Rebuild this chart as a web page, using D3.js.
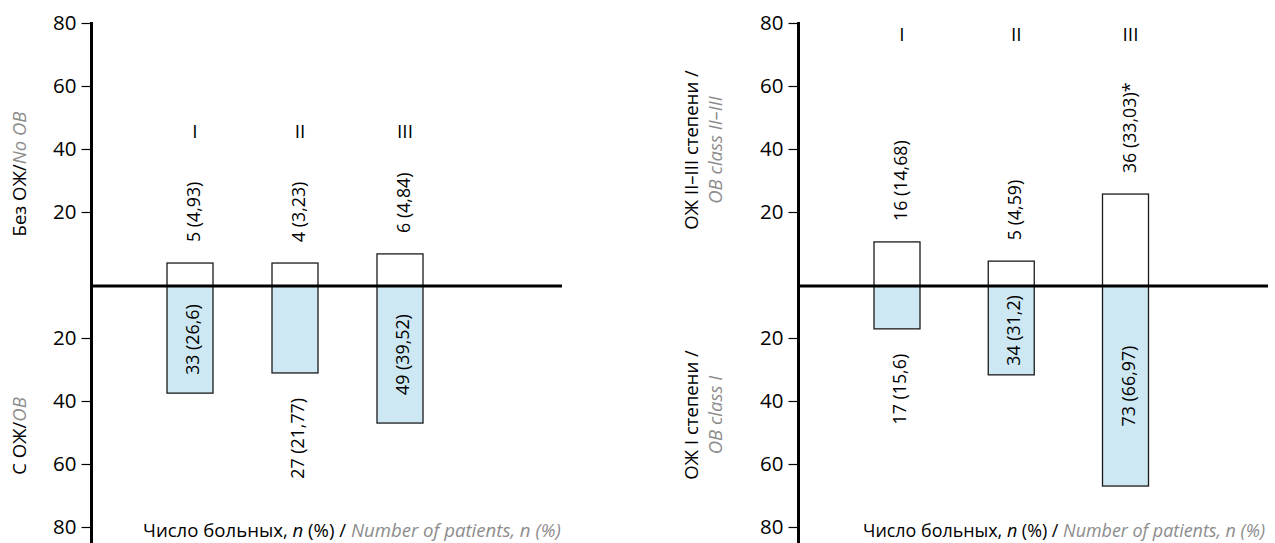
<!DOCTYPE html>
<html>
<head>
<meta charset="utf-8">
<script src="https://cdn.jsdelivr.net/npm/d3@7"></script>
<style>
  html, body { margin: 0; padding: 0; background: #fff; }
  svg { display: block; font-family: "Open Sans", sans-serif; }
</style>
</head>
<body>
<svg id="chart" width="1275" height="543"></svg>
<script>
// ---- data ----
const groups = ["I", "II", "III"];
const yTicks = [20, 40, 60, 80];

// bar lengths as drawn in the picture (axis units)
const leftUpperValues = [3.8, 3.8, 6.7];
const leftLowerValues = [37.5, 31.1, 47.0];
const rightUpperValues = [10.5, 4.4, 25.7];
const rightLowerValues = [17.1, 31.7, 67.0];

// printed value labels
const leftUpperLabels = ["5 (4,93)", "4 (3,23)", "6 (4,84)"];
const leftLowerLabels = ["33 (26,6)", "27 (21,77)", "49 (39,52)"];
const rightUpperLabels = ["16 (14,68)", "5 (4,59)", "36 (33,03)*"];
const rightLowerLabels = ["17 (15,6)", "34 (31,2)", "73 (66,97)"];

const leftUpperTitle = [["Без ОЖ/", "No OB"]];
const leftLowerTitle = [["С ОЖ/", "OB"]];
const rightUpperTitle = [["ОЖ II–III степени /", ""], ["", "OB class II–III"]];
const rightLowerTitle = [["ОЖ I степени /", ""], ["", "OB class I"]];

// ---- drawing ----
const svg = d3.select("#chart");
const GRAY = "#8c8c8c";
const FILL = "#cde8f3";

const yUp = d3.scaleLinear().domain([0, 80]).range([275, 23]);
const yDown = d3.scaleLinear().domain([0, 80]).range([275, 527]);
const baseY = 286;

function panel(opt) {
  const g = svg.append("g");
  const x = d3.scalePoint().domain(groups).range(opt.xRange);
  const bw = 46;

  // axes (upper and lower)
  const axUp = d3.axisLeft(yUp).tickValues(yTicks).tickSize(10).tickPadding(5);
  const axDown = d3.axisLeft(yDown).tickValues(yTicks).tickSize(10).tickPadding(5);
  [axUp, axDown].forEach(ax => {
    const a = g.append("g").attr("transform", `translate(${opt.axisX},0)`).call(ax);
    a.select(".domain").remove();
    a.selectAll(".tick line").attr("stroke", "#000").attr("stroke-width", 1.2);
    a.selectAll(".tick text").attr("font-size", 20.5).attr("fill", "#000")
      .attr("font-family", "'Open Sans', sans-serif");
  });
  g.append("line").attr("x1", opt.axisX).attr("x2", opt.axisX)
    .attr("y1", yUp(80) - 1).attr("y2", 543)
    .attr("stroke", "#000").attr("stroke-width", 3);

  // bars
  const up = groups.map((k, i) => ({ k, v: opt.upper[i], label: opt.upperLabels[i] }));
  const down = groups.map((k, i) => ({ k, v: opt.lower[i], label: opt.lowerLabels[i] }));

  g.selectAll(".bu").data(up).join("rect")
    .attr("x", d => x(d.k) - bw / 2).attr("width", bw)
    .attr("y", d => yUp(d.v)).attr("height", d => baseY - yUp(d.v))
    .attr("fill", "#fff").attr("stroke", "#1a1a1a").attr("stroke-width", 1.3);
  g.selectAll(".bd").data(down).join("rect")
    .attr("x", d => x(d.k) - bw / 2).attr("width", bw)
    .attr("y", baseY).attr("height", d => yDown(d.v) - baseY)
    .attr("fill", FILL).attr("stroke", "#1a1a1a").attr("stroke-width", 1.3);

  // baseline
  g.append("line").attr("x1", opt.axisX).attr("x2", opt.baseEnd)
    .attr("y1", baseY).attr("y2", baseY)
    .attr("stroke", "#000").attr("stroke-width", 2.8);

  // roman numerals
  g.selectAll(".rn").data(groups).join("text")
    .attr("x", d => x(d) + 5).attr("y", opt.romanY)
    .attr("text-anchor", "middle").attr("font-size", 19).text(d => d);

  const fs = 17.8;
  // upper labels (above bars)
  g.selectAll(".lu").data(up).join("text")
    .attr("transform", d => `translate(${x(d.k) + 3},${yUp(d.v) - 21}) rotate(-90)`)
    .attr("dominant-baseline", "central").attr("text-anchor", "start")
    .attr("font-size", fs).text(d => d.label);

  // lower labels: inside bar if it fits, otherwise below
  g.selectAll(".ld").data(down).join("text")
    .attr("font-size", fs).attr("dominant-baseline", "central").text(d => d.label)
    .each(function (d) {
      const len = this.getComputedTextLength();
      const barLen = yDown(d.v) - baseY;
      const sel = d3.select(this);
      if (len + 10 < barLen) {
        sel.attr("text-anchor", "middle")
          .attr("transform", `translate(${x(d.k) + 2},${(baseY + yDown(d.v)) / 2}) rotate(-90)`);
      } else {
        sel.attr("text-anchor", "end")
          .attr("transform", `translate(${x(d.k) + 2},${yDown(d.v) + 25}) rotate(-90)`);
      }
    });

  // side titles
  function title(lines, cy, x0) {
    lines.forEach((parts, i) => {
      const t = g.append("text")
        .attr("transform", `translate(${x0 + i * 24},${cy}) rotate(-90)`)
        .attr("text-anchor", "middle").attr("dominant-baseline", "central")
        .attr("font-size", 18.5);
      if (parts[0]) t.append("tspan").attr("fill", "#000").text(parts[0]);
      if (parts[1]) t.append("tspan").attr("fill", GRAY).attr("font-style", "italic").text(parts[1]);
    });
  }
  title(opt.upTitle, opt.upTitleY, opt.titleX);
  title(opt.downTitle, opt.downTitleY, opt.titleX);

  // bottom axis label
  const bl = g.append("text").attr("x", opt.bottomX).attr("y", 537).attr("font-size", opt.bottomFs);
  bl.append("tspan").text("Число больных, ");
  bl.append("tspan").attr("font-style", "italic").text("n");
  bl.append("tspan").text(" (%) / ");
  bl.append("tspan").attr("fill", GRAY).attr("font-style", "italic").text("Number of patients, n (%)");
}

panel({
  axisX: 91.5, baseEnd: 562, xRange: [190, 400], romanY: 138,
  upper: leftUpperValues, lower: leftLowerValues,
  upperLabels: leftUpperLabels, lowerLabels: leftLowerLabels,
  upTitle: leftUpperTitle, downTitle: leftLowerTitle,
  titleX: 18, upTitleY: 174, downTitleY: 436, bottomX: 143, bottomFs: 18.6
});
panel({
  axisX: 798.5, baseEnd: 1268, xRange: [897, 1125.5], romanY: 41,
  upper: rightUpperValues, lower: rightLowerValues,
  upperLabels: rightUpperLabels, lowerLabels: rightLowerLabels,
  upTitle: rightUpperTitle, downTitle: rightLowerTitle,
  titleX: 690, upTitleY: 150, downTitleY: 415, bottomX: 863, bottomFs: 17.9
});
</script>
</body>
</html>
